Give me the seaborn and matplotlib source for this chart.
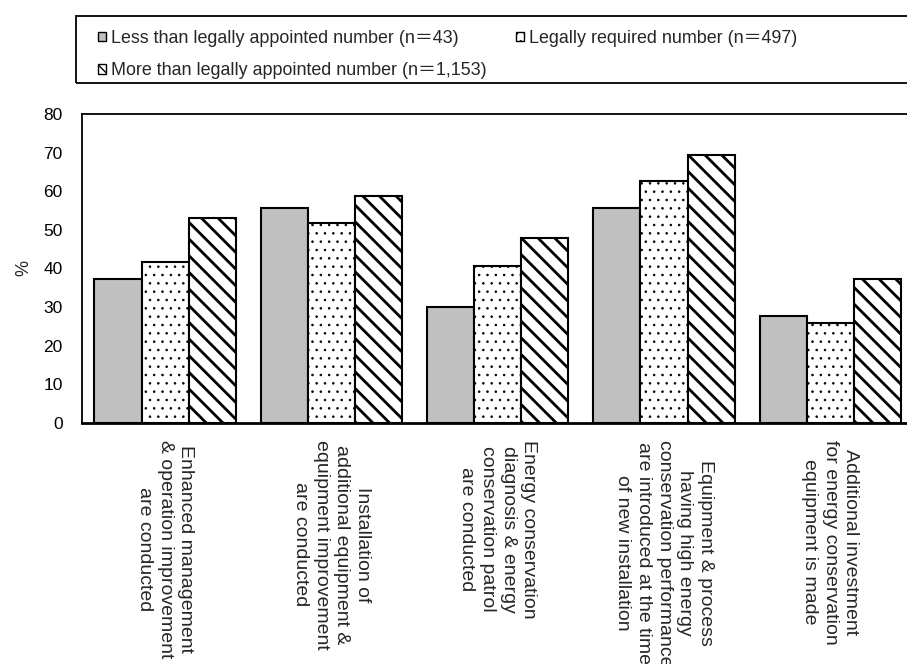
import matplotlib
matplotlib.use("Agg")
import matplotlib.pyplot as plt
import seaborn as sns
import pandas as pd
from matplotlib.patches import Patch, Rectangle

# Energy conservation measures (category axis)
measures = [
    "Enhanced management\n& operation improvement\nare conducted",
    "Installation of\nadditional equipment &\nequipment improvement\nare conducted",
    "Energy conservation\ndiagnosis & energy\nconservation patrol\nare conducted",
    "Equipment & process\nhaving high energy\nconservation performance\nare introduced at the time\nof new installation",
    "Additional investment\nfor energy conservation\nequipment is made",
]

# Respondent groups by number of energy managers
groups = [
    "Less than legally appointed number (n\uff1d43)",
    "Legally required number (n\uff1d497)",
    "More than legally appointed number (n\uff1d1,153)",
]

# Share of respondents (%)
less_than = [37.2, 55.6, 30.1, 55.6, 27.7]
required = [41.7, 51.7, 40.6, 62.6, 25.9]
more_than = [53.0, 58.7, 47.9, 69.5, 37.4]

y_ticks = [0, 10, 20, 30, 40, 50, 60, 70, 80]

df = pd.DataFrame({
    "measure": measures * 3,
    "group": [groups[0]] * 5 + [groups[1]] * 5 + [groups[2]] * 5,
    "pct": less_than + required + more_than,
})

sns.set_style("white")
plt.rcParams["font.family"] = ["Liberation Sans", "Noto Sans CJK JP", "DejaVu Sans"]

W, H = 907, 664
fig = plt.figure(figsize=(W / 100, H / 100), dpi=100)
ax = fig.add_axes([82 / W, (H - 423) / H, 831.5 / W, (423 - 114) / H])

face = ["#c0c0c0", "white", "white"]
hatches = [None, "..", "\\\\"]
hatch_lw = [1.0, 0.6, 2.0]

sns.barplot(data=df, x="measure", y="pct", hue="group", order=measures,
            hue_order=groups, palette=face, edgecolor="black", linewidth=1.5,
            width=0.85, saturation=1, legend=False, ax=ax)

for cont, h, lw in zip(ax.containers, hatches, hatch_lw):
    for bar in cont:
        if h:
            bar.set_hatch(h)
            if hasattr(bar, "set_hatch_linewidth"):
                bar.set_hatch_linewidth(lw)

ax.set_xlim(-0.5, 4.5)
ax.set_ylim(0, 80)
ax.set_yticks(y_ticks)
ax.tick_params(axis="y", direction="in", length=4, width=1, pad=14,
               labelsize=12.5, colors="black")
ax.set_xticks(range(len(measures)))
ax.set_xticklabels(measures, rotation=-90, ha="center", va="top",
                   multialignment="center", fontsize=14, linespacing=1.28)
ax.tick_params(axis="x", which="major", length=0, pad=12)
ax.set_xticks([i + 0.5 for i in range(len(measures))], minor=True)
ax.tick_params(axis="x", which="minor", direction="in", length=4.5, width=1,
               color="black")
ax.set_xlabel("")
ax.set_ylabel("%", fontsize=13, labelpad=8)

for name, sp in ax.spines.items():
    sp.set_visible(True)
    sp.set_color("black")
    sp.set_linewidth(2.0 if name == "bottom" else 1.3)

# Legend frame running off the right edge of the figure
fig.add_artist(Rectangle((76 / W, 1 - 82.5 / H), 1.0, 66.8 / H,
                         transform=fig.transFigure, fill=False,
                         edgecolor="black", linewidth=1.3))

handles = []
for f, h in zip(face, hatches):
    p = Patch(facecolor=f, edgecolor="black", linewidth=1.0, hatch=h)
    handles.append(p)
order = [0, 2, 1]
fig.legend([handles[i] for i in order], [groups[i] for i in order],
           loc="upper left", bbox_to_anchor=(89 / W, 1 - 21 / H), ncol=2,
           frameon=False, borderpad=0, handlelength=0.45, handleheight=0.45,
           handletextpad=0.3, columnspacing=1.6, labelspacing=0.85,
           prop={"family": ["Liberation Sans", "Noto Sans CJK JP"], "size": 12.9})

fig.savefig("out.png", dpi=100)
